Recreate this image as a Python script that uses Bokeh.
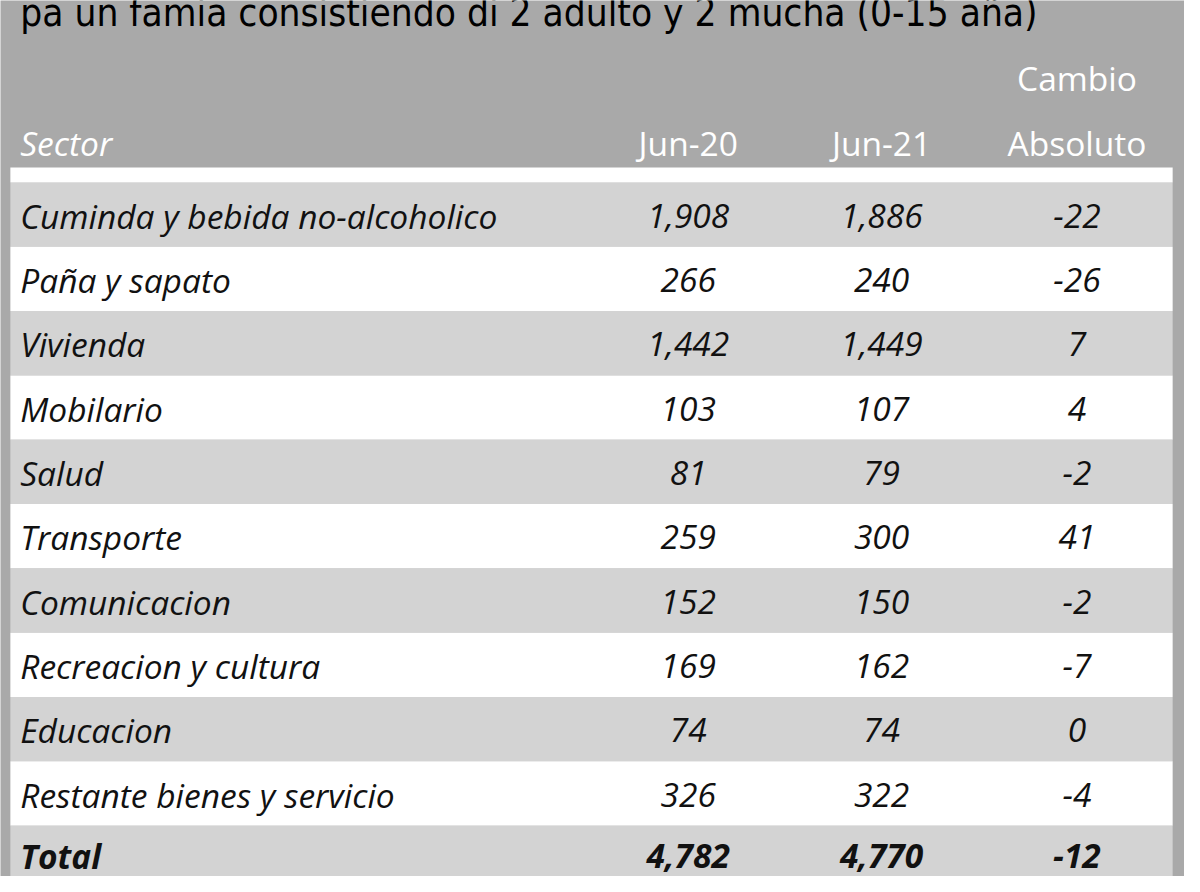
from bokeh.plotting import figure
from bokeh.models import ColumnDataSource, Range1d
from bokeh.core.properties import value
from bokeh.embed import file_html
from bokeh.resources import INLINE

# ---- data ----
title_text = "pa un famia consistiendo di 2 adulto y 2 mucha (0-15 aña)"
sectors = ["Cuminda y bebida no-alcoholico", "Paña y sapato", "Vivienda", "Mobilario",
           "Salud", "Transporte", "Comunicacion", "Recreacion y cultura", "Educacion",
           "Restante bienes y servicio"]
jun20 = [1908, 266, 1442, 103, 81, 259, 152, 169, 74, 326]
jun21 = [1886, 240, 1449, 107, 79, 300, 150, 162, 74, 322]
change = [-22, -26, 7, 4, -2, 41, -2, -7, 0, -4]
total_label = "Total"
total_jun20 = 4782
total_jun21 = 4770
total_change = -12
col_headers = ["Jun-20", "Jun-21", "Absoluto"]
col_header_top = "Cambio"
sector_header = "Sector"

# ---- style / layout ----
W, H = 1184, 876
REF_W, REF_H = 1200, 892
SC = W / REF_W
BG = "#a9a9a9"
LIGHT = "#d3d3d3"
WHITE = "#ffffff"
TXT = "#111111"
FONT = value("Open Sans")
FS = f"{34 * SC:.1f}px"
ROW_PX = 65.5
ROW0_PX = 218.0
def ry(px):
    return (px - ROW0_PX) / ROW_PX

col_x = [697, 893, 1091]
label_x = 20
tbl_left, tbl_right = 10, 1188

p = figure(width=W, height=H, output_backend="svg", toolbar_location=None,
           x_range=Range1d(0, REF_W), y_range=Range1d(ry(REF_H), ry(0)),
           min_border=0, background_fill_color=BG, border_fill_color=BG)
p.axis.visible = False
p.grid.visible = False
p.outline_line_color = None

n = len(sectors) + 1
rows = list(range(n))
bands = ColumnDataSource(dict(
    top=[r - 0.5 for r in rows], bottom=[r + 0.5 for r in rows],
    color=[LIGHT if r % 2 == 0 else WHITE for r in rows]))
p.quad(left=tbl_left, right=tbl_right, top="top", bottom="bottom", fill_color="color",
       line_color=None, source=bands)
p.quad(left=tbl_left, right=tbl_right, top=ry(170), bottom=-0.5, fill_color=WHITE,
       line_color=None)

fmt = lambda v: f"{v:,}"
src = ColumnDataSource(dict(
    y=list(range(len(sectors))), label=sectors,
    a=[fmt(v) for v in jun20], b=[fmt(v) for v in jun21], c=[fmt(v) for v in change]))

common = dict(text_font=FONT, text_font_size=FS, text_color=TXT, text_baseline="middle")
p.text(x=label_x, y="y", text="label", text_align="left", text_font_style="italic",
       source=src, y_offset=1, **common)
for key, cx in zip(["a", "b", "c"], col_x):
    p.text(x=cx, y="y", text=key, text_align="center", text_font_style="italic",
           source=src, y_offset=1, **common)

ty = len(sectors)
p.text(x=[label_x], y=[ty], text=[total_label], text_align="left",
       text_font_style="bold italic", y_offset=-2, **common)
for v, cx in zip([total_jun20, total_jun21, total_change], col_x):
    p.text(x=[cx], y=[ty], text=[fmt(v)], text_align="center",
           text_font_style="bold italic", y_offset=-2, **common)

# headers
hdr = dict(text_font=FONT, text_font_size=FS, text_color="white", text_baseline="middle")
p.text(x=[label_x], y=[ry(145)], text=[sector_header], text_align="left",
       text_font_style="italic", **hdr)
p.text(x=col_x, y=[ry(145)] * 3, text=col_headers, text_align="center", **hdr)
p.text(x=[col_x[2]], y=[ry(79)], text=[col_header_top], text_align="center", **hdr)

# title (cut off at top)
p.text(x=[label_x], y=[ry(12)], text=[title_text], text_align="left",
       text_baseline="alphabetic", text_font=value("DejaVu Sans Condensed"),
       text_font_size=f"{39 * SC:.1f}px", text_color="#000000")

open("out.html", "w").write(file_html(p, INLINE))
